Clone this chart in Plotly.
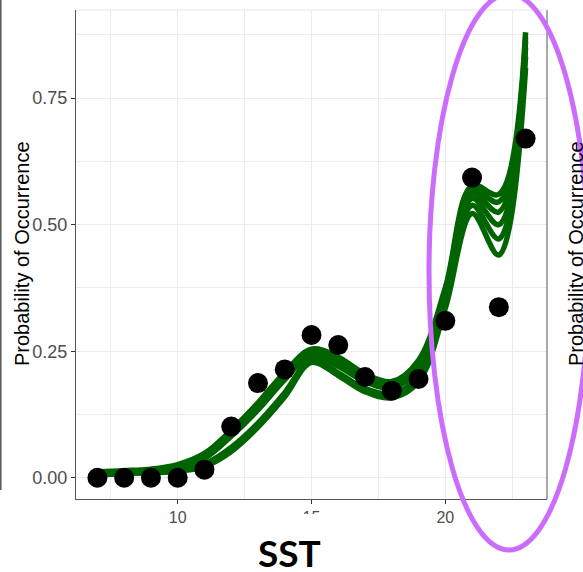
import plotly.graph_objects as go

# ---- data ----
sst = [7, 8, 9, 10, 11, 12, 13, 14, 15, 16, 17, 18, 19, 20, 21, 22, 23]
observed = [0.0, 0.0, 0.0, 0.0, 0.016, 0.101, 0.187, 0.214, 0.282, 0.262,
            0.199, 0.172, 0.195, 0.31, 0.593, 0.337, 0.67]

fit_a = [0.012, 0.014, 0.017, 0.026, 0.048, 0.094, 0.148, 0.208, 0.254, 0.238,
         0.205, 0.190, 0.232, 0.375, 0.577, 0.560, 0.880]
fit_b = [0.011, 0.013, 0.016, 0.024, 0.045, 0.091, 0.145, 0.205, 0.251, 0.233,
         0.202, 0.188, 0.228, 0.370, 0.570, 0.545, 0.870]
fit_c = [0.010, 0.012, 0.015, 0.022, 0.042, 0.088, 0.141, 0.201, 0.247, 0.227,
         0.197, 0.184, 0.222, 0.363, 0.562, 0.525, 0.862]
fit_d = [0.009, 0.011, 0.013, 0.020, 0.038, 0.082, 0.134, 0.194, 0.243, 0.220,
         0.190, 0.178, 0.215, 0.355, 0.552, 0.500, 0.850]
fit_e = [0.007, 0.009, 0.011, 0.015, 0.027, 0.060, 0.108, 0.168, 0.233, 0.207,
         0.176, 0.166, 0.201, 0.343, 0.538, 0.472, 0.832]
fit_f = [0.006, 0.008, 0.010, 0.013, 0.022, 0.052, 0.100, 0.160, 0.228, 0.202,
         0.170, 0.158, 0.190, 0.335, 0.522, 0.440, 0.810]
fits = [fit_a, fit_b, fit_c, fit_d, fit_e, fit_f]

y_ticks = [0.0, 0.25, 0.5, 0.75]
y_tick_text = ["0.00", "0.25", "0.50", "0.75"]
x_ticks = [10, 15, 20]

W, H = 583, 572
L, R, T, B = 76, 36, 10, 73
pw, ph = W - L - R, H - T - B


def px(x):
    return (x - L) / pw


def py(y):
    return (H - B - y) / ph


fig = go.Figure()
for f in fits:
    fig.add_trace(go.Scatter(x=sst, y=f, mode="lines",
                             line=dict(color="#006400", width=5.5, shape="spline", smoothing=1.0),
                             hoverinfo="skip", showlegend=False))
fig.add_trace(go.Scatter(x=sst, y=observed, mode="markers",
                         marker=dict(color="black", size=20, line=dict(width=0)),
                         showlegend=False))

grid = "#EBEBEB"
fig.update_xaxes(range=[6.2, 23.8], tickmode="array", tickvals=x_ticks,
                 ticks="outside", ticklen=4, tickcolor="#333333",
                 showline=True, linecolor="#555555", linewidth=1,
                 showgrid=True, gridcolor=grid, gridwidth=1, zeroline=False,
                 minor=dict(tickmode="array", tickvals=[7.5, 12.5, 17.5, 22.5],
                            showgrid=True, gridcolor=grid, gridwidth=0.6, ticks=""),
                 tickfont=dict(family="Liberation Sans, Arial", size=16, color="#4D4D4D"))
fig.update_yaxes(range=[-0.042, 0.924], tickmode="array", tickvals=y_ticks,
                 ticktext=y_tick_text,
                 ticks="outside", ticklen=4, tickcolor="#333333",
                 showline=True, linecolor="#555555", linewidth=1,
                 showgrid=True, gridcolor=grid, gridwidth=1, zeroline=False,
                 minor=dict(tickmode="array", tickvals=[0.125, 0.375, 0.625, 0.875],
                            showgrid=True, gridcolor=grid, gridwidth=0.6, ticks=""),
                 tickfont=dict(family="Liberation Sans, Arial", size=18, color="#4D4D4D"))

shapes = [
    # right panel border
    dict(type="line", xref="paper", yref="paper", x0=1, x1=1, y0=0, y1=1,
         line=dict(color="#555555", width=1)),
    # faint top edge
    dict(type="line", xref="paper", yref="paper", x0=0, x1=1, y0=1, y1=1,
         line=dict(color="#E6E6E6", width=1)),
    # neighbouring panel's edge at far left
    dict(type="line", xref="paper", yref="paper", x0=px(0.8), x1=px(0.8), y0=py(490), y1=py(0),
         line=dict(color="#555555", width=1.5)),
    # white box partly covering the "15" label
    dict(type="rect", xref="paper", yref="paper", x0=px(240), x1=px(345), y0=py(572), y1=py(514),
         fillcolor="white", line=dict(width=0), layer="above"),
    # purple highlight ellipse
    dict(type="circle", xref="paper", yref="paper", x0=px(429), x1=px(589), y0=py(550), y1=py(-6),
         line=dict(color="#CC6CFC", width=5), layer="above"),
]

annotations = [
    dict(text="Probability of Occurrence", xref="paper", yref="paper",
         x=px(22), y=py(254), textangle=-90, showarrow=False,
         xanchor="center", yanchor="middle",
         font=dict(family="Liberation Sans, Arial", size=20, color="black")),
    dict(text="Probability of Occurrence", xref="paper", yref="paper",
         x=px(576), y=py(254), textangle=-90, showarrow=False,
         xanchor="center", yanchor="middle",
         font=dict(family="Liberation Sans, Arial", size=20, color="black")),
    dict(text="<b>SST</b>", xref="paper", yref="paper",
         x=px(289), y=py(552), showarrow=False,
         xanchor="center", yanchor="middle",
         font=dict(family="Lato", size=37, color="black")),
]

fig.update_layout(width=W, height=H, margin=dict(l=L, r=R, t=T, b=B, autoexpand=False),
                  plot_bgcolor="white", paper_bgcolor="white",
                  shapes=shapes, annotations=annotations, showlegend=False)

fig.write_html("out.html", config={"displayModeBar": False},
               post_script="document.body.style.margin='0';document.body.style.overflow='hidden';")
